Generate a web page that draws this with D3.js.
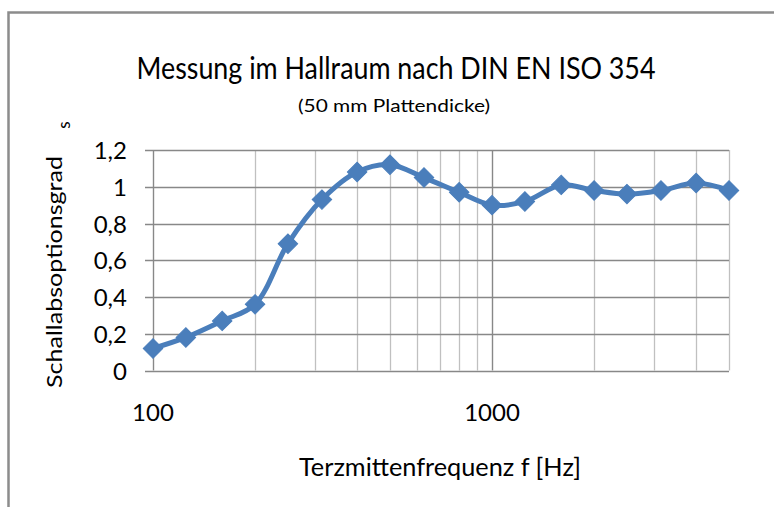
<!DOCTYPE html>
<html><head><meta charset="utf-8">
<script src="https://cdn.jsdelivr.net/npm/d3@7"></script>
<style>
html,body{margin:0;padding:0;background:#fff;}
svg{display:block;}
text{font-family:Lato,"Open Sans",sans-serif;fill:#000;}
</style></head>
<body>
<svg id="c" width="774" height="507"></svg>
<script>
const freqs = [100,125,160,200,250,315,400,500,630,800,1000,1250,1600,2000,2500,3150,4000,5000];
const alphaS = [0.12,0.18,0.27,0.36,0.69,0.93,1.08,1.12,1.05,0.97,0.90,0.92,1.01,0.98,0.96,0.98,1.02,0.98];
const yTicks = [0,0.2,0.4,0.6,0.8,1,1.2];
const xLabelTicks = [100,1000];
const xGridMinor = [200,300,400,500,600,700,800,900,2000,3000,4000,5000];
const xGridMajor = [100,1000];

const svg = d3.select("#c");
const x = d3.scaleLog().domain([100,5000]).range([153,729]);
const y = d3.scaleLinear().domain([0,1.2]).range([370.5,150]);
const fmt = v => String(+v.toFixed(1)).replace(".", ",");

// outer frame
svg.append("rect").attr("x",8.5).attr("y",12.5).attr("width",820).attr("height",540)
  .attr("fill","none").attr("stroke","#8c8c8c").attr("stroke-width",2.5);

// minor vertical gridlines
svg.append("g").selectAll("line").data(xGridMinor).join("line")
  .attr("x1",d=>Math.round(x(d))+0.5).attr("x2",d=>Math.round(x(d))+0.5)
  .attr("y1",y(1.2)).attr("y2",y(0))
  .attr("stroke","#c0c0c0").attr("stroke-width",1.3);

// horizontal gridlines
svg.append("g").selectAll("line").data(yTicks).join("line")
  .attr("x1",145).attr("x2",x(5000))
  .attr("y1",d=>Math.round(y(d))+0.5).attr("y2",d=>Math.round(y(d))+0.5)
  .attr("stroke","#888").attr("stroke-width",1.3);

// major vertical gridlines
svg.append("g").selectAll("line").data(xGridMajor).join("line")
  .attr("x1",d=>Math.round(x(d))+0.5).attr("x2",d=>Math.round(x(d))+0.5)
  .attr("y1",y(1.2)).attr("y2",y(0))
  .attr("stroke","#888").attr("stroke-width",1.4);

// y tick labels
svg.append("g").selectAll("text").data(yTicks).join("text")
  .attr("x",127).attr("y",d=>y(d)+9).attr("text-anchor","end")
  .attr("font-size",24).text(fmt);

// x tick labels
svg.append("g").selectAll("text").data(xLabelTicks).join("text")
  .attr("x",d=>x(d)).attr("y",421).attr("text-anchor","middle")
  .attr("font-size",24).text(d=>String(d));

// line
const line = d3.line().x((d,i)=>x(freqs[i])).y(d=>y(d)).curve(d3.curveCatmullRom.alpha(0.5));
svg.append("path").datum(alphaS).attr("d",line)
  .attr("fill","none").attr("stroke","#4a7ebb").attr("stroke-width",5).attr("stroke-linejoin","round");

// diamond markers
const sym = d3.symbol().type(d3.symbolDiamond2).size(230);
svg.append("g").selectAll("path").data(alphaS).join("path")
  .attr("transform",(d,i)=>`translate(${x(freqs[i])},${y(d)}) rotate(45)`)
  .attr("d",d3.symbol().type(d3.symbolSquare).size(190))
  .attr("fill","#4a7ebb").attr("stroke","#4a7ebb").attr("stroke-width",1);

// titles
svg.append("text").attr("x",396).attr("y",78.5).attr("text-anchor","middle")
  .attr("font-size",30).attr("textLength",519).attr("lengthAdjust","spacingAndGlyphs")
  .text("Messung im Hallraum nach DIN EN ISO 354");
svg.append("text").attr("x",394).attr("y",112).attr("text-anchor","middle")
  .attr("font-size",18).attr("textLength",192).attr("lengthAdjust","spacingAndGlyphs")
  .text("(50 mm Plattendicke)");
svg.append("text").attr("x",440).attr("y",476).attr("text-anchor","middle")
  .attr("font-size",25).attr("textLength",282).attr("lengthAdjust","spacingAndGlyphs")
  .text("Terzmittenfrequenz f [Hz]");
svg.append("text").attr("transform","translate(62,272) rotate(-90)").attr("text-anchor","middle")
  .attr("font-size",21).attr("textLength",232).attr("lengthAdjust","spacingAndGlyphs")
  .text("Schallabsoptionsgrad");
svg.append("text").attr("transform","translate(70,125) rotate(-90)").attr("text-anchor","middle")
  .attr("font-size",17).text("s");
</script>
</body></html>
